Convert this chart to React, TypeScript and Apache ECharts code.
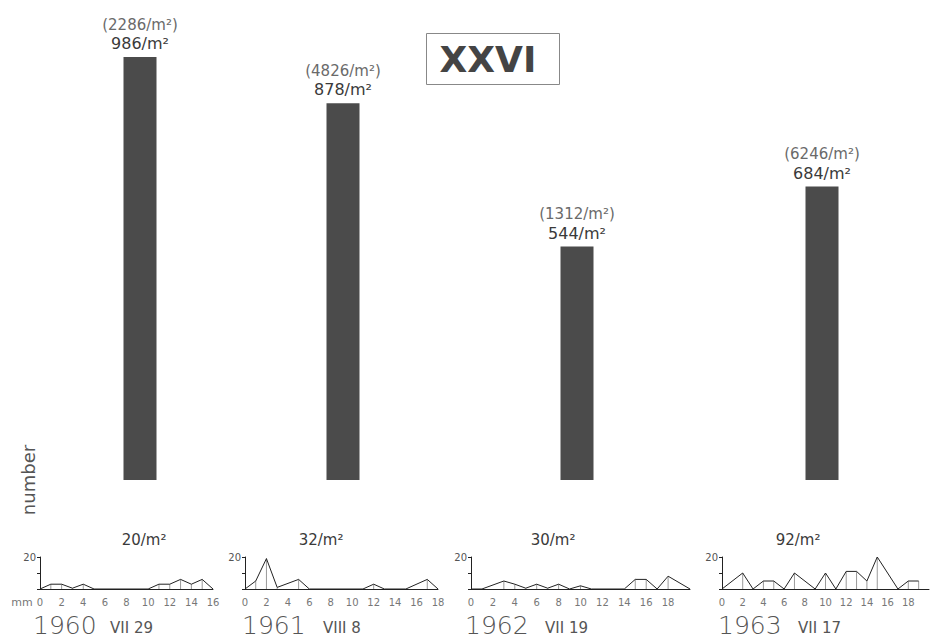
import React, { useEffect, useRef } from "react";
import * as echarts from "echarts";

// Station XXVI: yearly samples
const years = ["1960", "1961", "1962", "1963"];
const dates = ["VII 29", "VIII 8", "VII 19", "VII 17"];
const densities = [986, 878, 544, 684]; // number per m²
const totals = [2286, 4826, 1312, 6246]; // bracketed totals per m²
const smallDensities = [20, 32, 30, 92]; // small fraction per m²

// Length-frequency polygons: size class (mm) and number
const sizes1960 = [0, 1, 2, 3, 4, 5, 10, 11, 12, 13, 14, 15, 16];
const counts1960 = [0, 3, 3, 0.5, 3, 0, 0, 3, 3, 6, 3, 6, 0];
const sizes1961 = [0, 1, 2, 3, 5, 6, 11, 12, 13, 15, 17, 18];
const counts1961 = [0, 5, 19, 1, 6, 0, 0, 3, 0, 0, 6, 0];
const sizes1962 = [0, 1, 3, 4, 5, 6, 7, 8, 9, 10, 11, 14, 15, 16, 17, 18, 20];
const counts1962 = [0, 0, 5, 3, 0.5, 3, 0.5, 3, 0, 2, 0, 0, 6, 6, 0, 8, 0];
const sizes1963 = [0, 2, 3, 4, 5, 6, 7, 9, 10, 11, 12, 13, 14, 15, 17, 18, 19];
const counts1963 = [0, 10, 0, 5, 5, 0, 10, 0, 10, 0, 11, 11, 5, 20, 0, 5, 5];

const sizeTicks = [16, 18, 20, 20]; // x-axis extent of each polygon (mm)
const countMax = 20;

const polygons = [
  [sizes1960, counts1960],
  [sizes1961, counts1961],
  [sizes1962, counts1962],
  [sizes1963, counts1963],
];

// layout
const barCenters = [140, 343, 577, 822];
const smallLeft = [40, 245, 471, 722];
const smallWidth = [173, 193, 219, 216];
const smallLabelX = [144, 321, 553, 798];
const yearX = [33, 242, 465, 718];
const dateX = [110, 323, 545, 798];

const FONT = "'DejaVu Sans', 'Liberation Sans', sans-serif";
const INK = "#3a3a3a";

export default function App() {
  const ref = useRef<HTMLDivElement>(null);

  useEffect(() => {
    if (!ref.current) return;
    const chart = echarts.init(ref.current, undefined, { renderer: "svg" });

    const grid: any[] = [];
    const xAxis: any[] = [];
    const yAxis: any[] = [];
    const series: any[] = [];

    // big density bars, one grid per year sharing the same scale
    years.forEach((yr, i) => {
      grid.push({ left: barCenters[i] - 50, top: 51, width: 100, height: 429 });
      xAxis.push({ type: "category", gridIndex: i, data: [yr], show: false });
      yAxis.push({ type: "value", gridIndex: i, min: 0, max: 1000, show: false });
      series.push({
        type: "bar",
        xAxisIndex: i,
        yAxisIndex: i,
        barWidth: 33,
        data: [densities[i]],
        itemStyle: { color: "#4b4b4b" },
        label: {
          show: true,
          position: "top",
          distance: 4,
          formatter: () => `{a|(${totals[i]}/m²)}\n{b|${densities[i]}/m²}`,
          rich: {
            a: { fontFamily: FONT, fontSize: 15, color: "#6a6a6a", lineHeight: 19 },
            b: { fontFamily: FONT, fontSize: 16, color: INK, lineHeight: 19 },
          },
        },
      });
    });

    // small length-frequency polygons
    polygons.forEach(([xs, ys], i) => {
      const g = 4 + i;
      grid.push({ left: smallLeft[i], top: 557, width: smallWidth[i], height: 32 });
      xAxis.push({
        type: "value",
        gridIndex: g,
        min: 0,
        max: sizeTicks[i],
        interval: 2,
        axisLine: { show: true, onZero: false, lineStyle: { color: "#222", width: 1 } },
        axisTick: { show: false },
        splitLine: { show: false },
        axisLabel: {
          color: "#777",
          fontFamily: FONT,
          fontSize: 10,
          margin: 8,
          formatter: (v: number) => (v >= 20 ? "" : String(v)),
        },
      });
      yAxis.push({
        type: "value",
        gridIndex: g,
        min: 0,
        max: countMax,
        interval: 10,
        axisLine: { show: true, lineStyle: { color: "#222", width: 1 } },
        axisTick: { show: true, length: 3, lineStyle: { color: "#222" } },
        splitLine: { show: false },
        axisLabel: {
          color: "#555",
          fontFamily: FONT,
          fontSize: 10,
          margin: 4,
          formatter: (v: number) => (v === countMax ? String(v) : ""),
        },
      });
      const pts = xs.map((x, k) => [x, ys[k]]);
      series.push({
        type: "bar",
        xAxisIndex: g,
        yAxisIndex: g,
        barWidth: 1,
        data: pts.filter((p) => p[1] > 0),
        itemStyle: { color: "#9a9a9a" },
        silent: true,
      });
      series.push({
        type: "line",
        xAxisIndex: g,
        yAxisIndex: g,
        data: pts,
        symbol: "none",
        lineStyle: { color: "#222", width: 1 },
      });
    });

    const graphic: any[] = [
      {
        type: "rect",
        shape: { x: 426.5, y: 33.5, width: 133, height: 51 },
        style: { fill: "none", stroke: "#888", lineWidth: 1 },
      },
      {
        type: "text",
        x: 488,
        y: 59,
        style: {
          text: "XXVI",
          fontFamily: FONT,
          fontWeight: "bold",
          fontSize: 36,
          fill: "#444",
          align: "center",
          verticalAlign: "middle",
        },
      },
      {
        type: "text",
        x: 28,
        y: 480,
        rotation: Math.PI / 2,
        style: {
          text: "number",
          fontFamily: FONT,
          fontSize: 18,
          fill: "#555",
          align: "center",
          verticalAlign: "middle",
        },
      },
      {
        type: "text",
        x: 22,
        y: 602,
        style: {
          text: "mm",
          fontFamily: FONT,
          fontSize: 11,
          fill: "#777",
          align: "center",
          verticalAlign: "middle",
        },
      },
    ];

    years.forEach((yr, i) => {
      graphic.push({
        type: "text",
        x: smallLabelX[i],
        y: 540,
        style: {
          text: `${smallDensities[i]}/m²`,
          fontFamily: FONT,
          fontSize: 15,
          fill: INK,
          align: "center",
          verticalAlign: "middle",
        },
      });
      graphic.push({
        type: "text",
        x: yearX[i],
        y: 625,
        style: {
          text: yr,
          fontFamily: FONT,
          fontWeight: 200,
          fontSize: 25,
          fill: "#555",
          align: "left",
          verticalAlign: "middle",
        },
      });
      graphic.push({
        type: "text",
        x: dateX[i],
        y: 628,
        style: {
          text: dates[i],
          fontFamily: FONT,
          fontSize: 15,
          fill: "#555",
          align: "left",
          verticalAlign: "middle",
        },
      });
    });

    chart.setOption({
      animation: false,
      backgroundColor: "#fff",
      grid,
      xAxis,
      yAxis,
      series,
      graphic,
    });

    return () => chart.dispose();
  }, []);

  return (
    <div
      ref={ref}
      style={{ position: "fixed", left: 0, top: 0, width: 932, height: 639 }}
    />
  );
}
